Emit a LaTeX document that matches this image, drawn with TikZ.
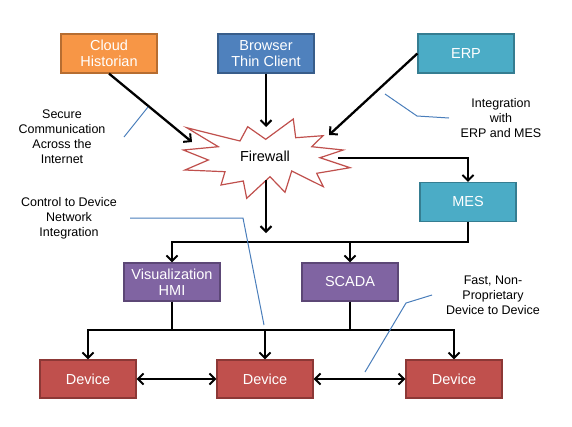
\documentclass[tikz,border=0pt]{standalone}
\usepackage{fontspec}
\setmainfont{Liberation Sans}
\usepackage{tikz}
\usetikzlibrary{arrows.meta}
\usetikzlibrary{positioning}
\definecolor{histfill}{HTML}{F79646}
\definecolor{histline}{HTML}{B66D31}
\definecolor{thinfill}{HTML}{4F81BD}
\definecolor{thinline}{HTML}{385D8A}
\definecolor{tealfill}{HTML}{4BACC6}
\definecolor{tealline}{HTML}{357D91}
\definecolor{hmifill}{HTML}{8064A2}
\definecolor{hmiline}{HTML}{5C4776}
\definecolor{devfill}{HTML}{C0504D}
\definecolor{devline}{HTML}{8C3836}
\definecolor{wallline}{HTML}{C0504D}
\definecolor{callline}{HTML}{4A7EBB}
\tikzset{my arrow/.style={-{Straight Barb[length=5.5pt,width=11pt,line width=2pt]}, line width=2.3pt, black}}
\tikzset{my both/.style={{Straight Barb[length=5.5pt,width=11pt,line width=2pt]}-{Straight Barb[length=5.5pt,width=11pt,line width=2pt]}, line width=2.3pt, black}}
\tikzstyle{process} = [rectangle, minimum width=96pt, minimum height=39pt, inner sep=0pt, align=center, text=white, line width=1.2pt, font=\fontsize{14.5}{16.5}\selectfont]
\tikzstyle{note} = [align=center, inner sep=0pt, font=\fontsize{12.5}{15}\selectfont]
\tikzstyle{callout} = [callline, line width=1pt]

\begin{document}
\begin{tikzpicture}[x=1pt, y=-1pt]
  \useasboundingbox (0,0) rectangle (572,426);

  \node [process, fill=histfill, draw=histline] (cloud)   at (109,53.5) {Cloud\\Historian};
  \node [process, fill=thinfill, draw=thinline] (browser) at (266,53.5) {Browser\\Thin Client};
  \node [process, fill=tealfill, draw=tealline] (erp)     at (466,53.5) {ERP};
  \node [process, fill=tealfill, draw=tealline] (mes)     at (468,202)  {MES};
  \node [process, fill=hmifill, draw=hmiline, minimum height=38pt] (vis)   at (172,282) {Visualization\\HMI};
  \node [process, fill=hmifill, draw=hmiline, minimum height=38pt] (scada) at (350,282) {SCADA};
  \node [process, fill=devfill, draw=devline, minimum height=38pt] (devA) at (88,379)  {Device};
  \node [process, fill=devfill, draw=devline, minimum height=38pt] (devB) at (265,379) {Device};
  \node [process, fill=devfill, draw=devline, minimum height=38pt] (devC) at (454,379) {Device};

  % firewall burst
  \draw [wallline, line width=1.2pt, fill=white]
    (186.7,127.7) -- (240,141) -- (247.7,126.7) -- (265.7,139.3) -- (293.3,119) -- (295.7,137.7)
    -- (323,135.7) -- (311.7,146.7) -- (343.3,150) -- (320,157.7) -- (350,167.7) -- (316.7,173.3)
    -- (323.3,186.7) -- (291.7,171) -- (285,192.3) -- (270,176.7) -- (246.7,198.3) -- (243.3,181)
    -- (221,185) -- (225,171.7) -- (185,170) -- (208.3,160) -- (183.3,150) -- (218.3,146.7) -- cycle;
  \node [font=\fontsize{14.5}{16.5}\selectfont] (firewall) at (265,156) {Firewall};

  \coordinate (fwnw) at (192,142);
  \coordinate (fwn)  at (266,127);
  \coordinate (fwne) at (329,135);
  \coordinate (fwe)  at (338,158);
  \coordinate (fws)  at (266,180);
  \coordinate (fwend) at (266,233);
  \coordinate (topbus) at (0,242);
  \coordinate (lowbus) at (0,330);

  \draw [my arrow] (cloud.south)   -- (fwnw);
  \draw [my arrow] (browser.south) -- (fwn);
  \draw [my arrow] (erp.west)      -- (fwne);
  \draw [my arrow] (fwe)           -| (mes.north);
  \draw [my arrow] (fws)           -- (fwend);

  \draw [my arrow] (mes.south) |- (vis.north |- topbus) -- (vis.north);
  \draw [my arrow] (scada.north |- topbus) -- (scada.north);

  \draw [line width=2.3pt] (scada.south) |- (vis.south |- lowbus);
  \draw [my arrow] (vis.south)   |- (devA.north |- lowbus) -- (devA.north);
  \draw [my arrow] (vis.south)   |- (devB.north |- lowbus) -- (devB.north);
  \draw [my arrow] (scada.south) |- (devC.north |- lowbus) -- (devC.north);

  \draw [my both] (devA.east) -- (devB.west);
  \draw [my both] (devB.east) -- (devC.west);

  % notes
  \node [note] (secure)  at (62,137)  {Secure\\Communication\\Across the\\Internet};
  \node [note] (integr)  at (501,118) {Integration\\with\\ERP and MES};
  \node [note] (control) at (69,218)  {Control to Device\\Network\\Integration};
  \node [note] (fast)    at (493,295) {Fast, Non-\\Proprietary\\Device to Device};

  \coordinate (secureA) at (124,137);
  \coordinate (secureB) at (148,107);
  \coordinate (integrA) at (449,118);
  \coordinate (integrB) at (385,94);
  \coordinate (controlA) at (130,218);
  \coordinate (controlB) at (264,325);
  \coordinate (fastA) at (432,295);
  \coordinate (fastB) at (365,372);

  \draw [callout] (secureA) -- (secureB);
  \draw [callout] (integrA) -- (417,116) -- (integrB);
  \draw [callout] (controlA) -- (243,218) -- (controlB);
  \draw [callout] (fastA) -- (406,303) -- (fastB);
\end{tikzpicture}
\end{document}
